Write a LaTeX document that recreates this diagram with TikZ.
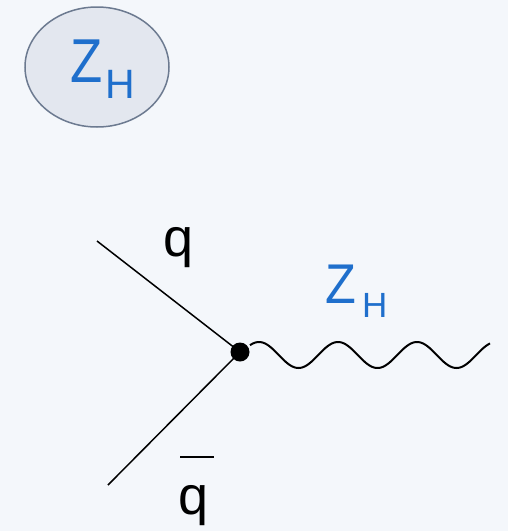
\documentclass[tikz,border=0pt]{standalone}
\usepackage{fontspec}
\setmainfont{Liberation Sans}
\definecolor{bgc}{HTML}{F4F7FB}
\definecolor{zblue}{HTML}{1F6FCC}
\definecolor{ellfill}{HTML}{E3E7EF}
\definecolor{elldraw}{HTML}{6C7A90}
\tikzset{
  lbl/.style={inner sep=0pt, anchor=base west, text=zblue},
  qlbl/.style={inner sep=0pt, anchor=base west, text=black},
  fermion/.style={line width=1.5pt, black},
  boson/.style={line width=2pt, black},
}
\begin{document}
\begin{tikzpicture}[x=1pt,y=-1pt]
\fill[bgc] (0,0) rectangle (508,531);
\useasboundingbox (0,0) rectangle (508,531);
% ellipse badge
\node[draw=elldraw, fill=ellfill, line width=1.5pt, shape=circle, xscale=1.2, minimum size=120pt, inner sep=0pt] (badge) at (97,67) {};
\node[lbl, font=\fontsize{62}{62}\selectfont, xscale=0.85] (z1) at (70,82) {Z};
\node[lbl, font=\fontsize{41}{41}\selectfont] (h1) at (105,98) {H};
% vertex
\node[circle, fill=black, minimum size=19pt, inner sep=0pt] (v) at (240,352) {};
\coordinate (qin) at (97,241);
\coordinate (qbin) at (108,485);
\draw[fermion] (qin) -- (v.center);
\draw[fermion] (qbin) -- (v.center);
\draw[boson] plot[domain=250:490, samples=160, smooth] (\x, {355 - 13*cos((\x-259)/79*360)});
% labels
\node[qlbl, font=\fontsize{54}{54}\selectfont] (q) at (163,256) {q};
\node[qlbl, font=\fontsize{54}{54}\selectfont] (qb) at (178,514) {q};
\draw[line width=2.5pt] (180,457) -- (214,457);
\node[lbl, font=\fontsize{56}{56}\selectfont, xscale=0.9] (z2) at (325,303) {Z};
\node[lbl, font=\fontsize{35}{35}\selectfont] (h2) at (362,317) {H};
\end{tikzpicture}
\end{document}
